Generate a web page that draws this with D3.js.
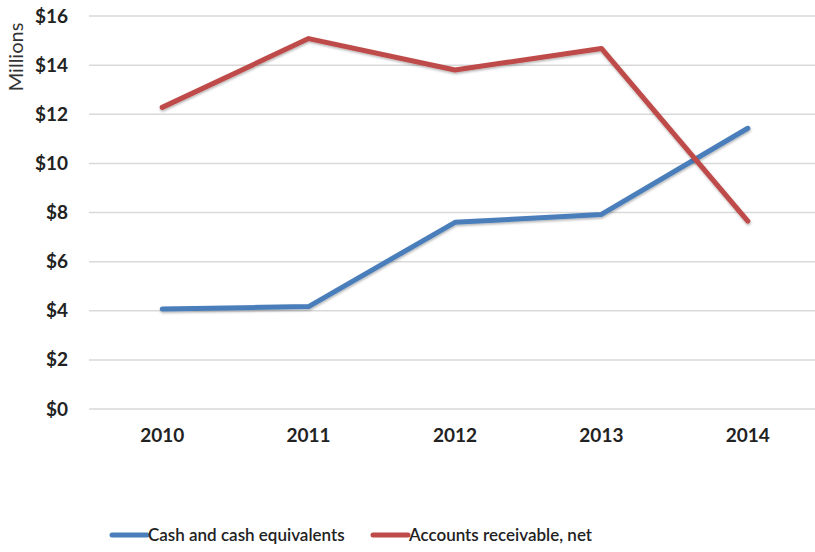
<!DOCTYPE html>
<html><head><meta charset="utf-8">
<script src="https://cdn.jsdelivr.net/npm/d3@7"></script>
<style>body{margin:0;background:#fff;} svg{display:block;}</style>
</head><body>
<svg id="c" width="815" height="552"></svg>
<script>
const years = ["2010","2011","2012","2013","2014"];
const cashValues = [4.07, 4.17, 7.6, 7.92, 11.43];
const receivableValues = [12.28, 15.08, 13.8, 14.68, 7.65];
const yTicks = [0,2,4,6,8,10,12,14,16];
const seriesNames = ["Cash and cash equivalents","Accounts receivable, net"];
const seriesColors = ["#4a7ebb","#be4b48"];

const svg = d3.select("#c");
const x = d3.scaleBand().domain(years).range([89, 821]);
const y = d3.scaleLinear().domain([0,16]).range([409, 16]);
const font = "Lato, 'Open Sans', sans-serif";

// gridlines
svg.append("g").selectAll("line").data(yTicks).join("line")
  .attr("x1", 89).attr("x2", 815)
  .attr("y1", d=>y(d)).attr("y2", d=>y(d))
  .attr("stroke", "#d9d9d9").attr("stroke-width", 1.5);

// y axis labels
const yAxis = d3.axisLeft(y).tickValues(yTicks).tickFormat(d=>"$"+d).tickSize(0).tickPadding(0);
const ga = svg.append("g").attr("transform","translate(68,0)").call(yAxis);
ga.select(".domain").remove();
ga.selectAll("text").attr("font-family", font).attr("font-weight","bold").attr("font-size",19).attr("fill","#222");

// x axis labels
const xAxis = d3.axisBottom(x).tickSize(0).tickPadding(0);
const gx = svg.append("g").attr("transform","translate(0,428)").call(xAxis);
gx.select(".domain").remove();
gx.selectAll("text").attr("font-family", font).attr("font-weight","bold").attr("font-size",19).attr("fill","#222");

// Millions title
svg.append("text").attr("transform","translate(23,57) rotate(-90)")
  .attr("text-anchor","middle").attr("font-family", font).attr("font-size",20).attr("fill","#333")
  .text("Millions");

// lines
const line = d3.line().x((d,i)=>x(years[i]) + x.bandwidth()/2).y(d=>y(d));
const defs = svg.append("defs");
defs.append("filter").attr("id","sh").attr("x","-10%").attr("y","-10%").attr("width","120%").attr("height","130%")
  .append("feDropShadow").attr("dx",0.5).attr("dy",1.5).attr("stdDeviation",1).attr("flood-color","#000").attr("flood-opacity",0.3);

[cashValues, receivableValues].forEach((vals, k) => {
  svg.append("path").datum(vals).attr("d", line)
    .attr("fill","none").attr("stroke", seriesColors[k]).attr("stroke-width",5)
    .attr("stroke-linejoin","round").attr("stroke-linecap","round")
    .attr("filter","url(#sh)");
});

// legend
const legX = [112, 373];
seriesNames.forEach((n,k)=>{
  const g = svg.append("g").attr("transform",`translate(${legX[k]},535)`);
  g.append("line").attr("x1",0).attr("x2",35).attr("y1",0).attr("y2",0)
    .attr("stroke",seriesColors[k]).attr("stroke-width",5).attr("stroke-linecap","round");
  g.append("text").attr("x",36).attr("y",0).attr("dy","0.35em")
    .attr("font-family", font).attr("font-weight","600").attr("font-size",17).attr("fill","#222").text(n);
});
</script>
</body></html>
